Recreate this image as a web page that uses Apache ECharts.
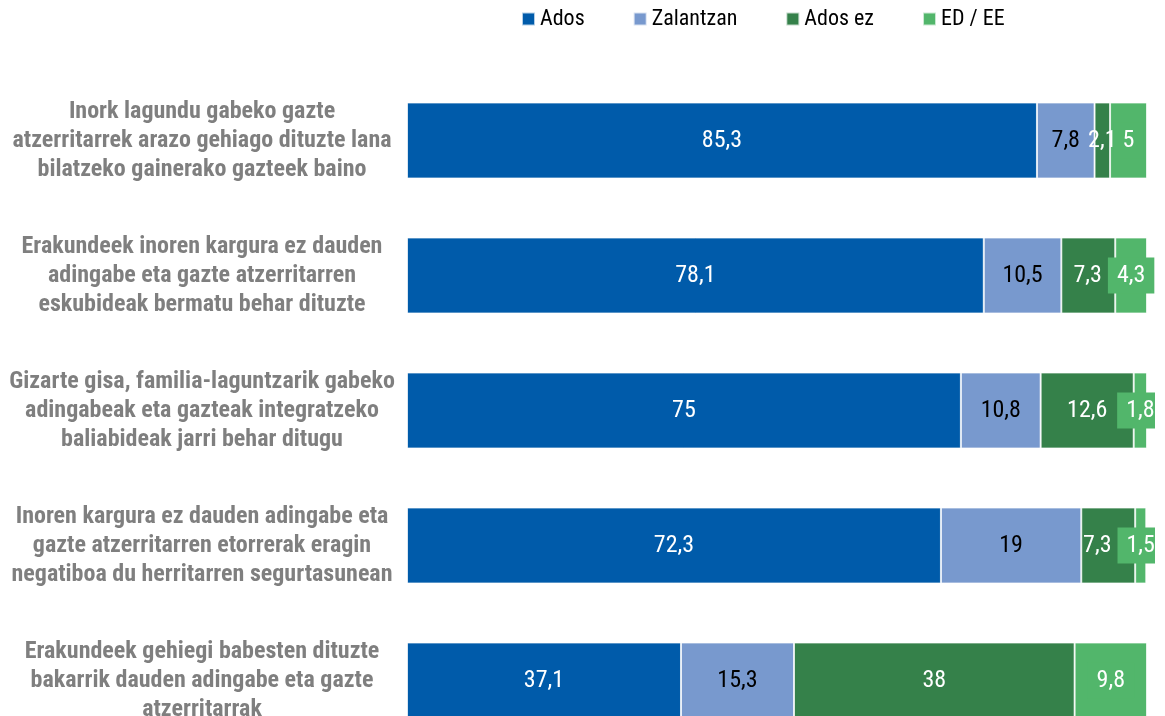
<!DOCTYPE html>
<html>
<head>
<meta charset="utf-8">
<script src="https://cdn.jsdelivr.net/npm/echarts@6/dist/echarts.min.js"></script>
<style>
  html, body { margin: 0; padding: 0; background: #fff; }
  #chart { width: 1165px; height: 716px; }
</style>
</head>
<body>
<div id="chart"></div>
<script>
// Statements (top to bottom)
const categories = [
  'Inork lagundu gabeko gazte\natzerritarrek arazo gehiago dituzte lana\nbilatzeko gainerako gazteek baino',
  'Erakundeek inoren kargura ez dauden\nadingabe eta gazte atzerritarren\neskubideak bermatu behar dituzte',
  'Gizarte gisa, familia-laguntzarik gabeko\nadingabeak eta gazteak integratzeko\nbaliabideak jarri behar ditugu',
  'Inoren kargura ez dauden adingabe eta\ngazte atzerritarren etorrerak eragin\nnegatiboa du herritarren segurtasunean',
  'Erakundeek gehiegi babesten dituzte\nbakarrik dauden adingabe eta gazte\natzerritarrak'
];

const seriesNames = ['Ados', 'Zalantzan', 'Ados ez', 'ED / EE'];

// Percentages per answer
const ados      = [85.3, 78.1, 75.0, 72.3, 37.1];
const zalantzan = [7.8, 10.5, 10.8, 19.0, 15.3];
const adosEz    = [2.1, 7.3, 12.6, 7.3, 38.0];
const edEe      = [5.0, 4.3, 1.8, 1.5, 9.8];

const values = [ados, zalantzan, adosEz, edEe];
const colors = ['#005BAA', '#7899CE', '#35814A', '#52B66B'];
const labelColors = ['#ffffff', '#000000', '#ffffff', '#ffffff'];

const FONT = '"Roboto Condensed", "Liberation Sans Narrow", sans-serif';
const VALUE_SIZE = 24;
const BOX_PAD = 9;
const X_MAX = 100.2;

const fmt = v => String(v).replace('.', ',');

const chart = echarts.init(document.getElementById('chart'));

// labelTweaks[s][i] = extra label settings for one bar segment
function buildSeries(labelTweaks) {
  return values.map((vals, s) => {
    const isLast = s === values.length - 1;
    return {
      name: seriesNames[s],
      type: 'bar',
      stack: 'total',
      barWidth: 76,
      itemStyle: { color: colors[s], borderColor: 'rgba(255,255,255,0.7)', borderWidth: 1 },
      label: {
        show: true,
        position: 'inside',
        color: labelColors[s],
        fontFamily: FONT,
        fontSize: VALUE_SIZE,
        lineHeight: 24,
        formatter: p => fmt(p.value),
        backgroundColor: isLast ? colors[s] : 'transparent',
        padding: isLast ? [6, BOX_PAD, 6, BOX_PAD] : 0
      },
      data: vals.map((v, i) => {
        const tweak = labelTweaks && labelTweaks[s] && labelTweaks[s][i];
        return tweak ? { value: v, label: tweak } : v;
      })
    };
  });
}

const option = {
  animation: false,
  backgroundColor: '#ffffff',
  legend: {
    data: seriesNames,
    left: 521,
    top: 8,
    padding: 0,
    icon: 'rect',
    itemWidth: 13,
    itemHeight: 13,
    itemGap: 48,
    textStyle: { fontFamily: FONT, fontSize: 22, color: '#000000' }
  },
  grid: { left: 407, right: 18, top: 73, bottom: -32, outerBoundsMode: 'none', containLabel: false },
  xAxis: {
    type: 'value',
    min: 0,
    max: X_MAX,
    show: false
  },
  yAxis: {
    type: 'category',
    inverse: true,
    data: categories,
    axisLine: { show: false },
    axisTick: { show: false },
    splitLine: { show: false },
    axisLabel: {
      align: 'center',
      margin: 205,
      fontFamily: FONT,
      fontSize: 24,
      fontWeight: 'bold',
      lineHeight: 29,
      color: '#7F7F7F'
    }
  },
  series: buildSeries(null)
};

chart.setOption(option);

// ED / EE label boxes stay centred on their segment but are cut at the plot edge;
// an "Ados ez" label that would sit under a protruding box moves to the left.
const ctx = document.createElement('canvas').getContext('2d');
ctx.font = VALUE_SIZE + 'px ' + FONT;
const px = (x, i) => chart.convertToPixel({ gridIndex: 0 }, [x, i])[0];
const edge = px(X_MAX, 0) + 8;
const tweaks = [null, null, [], []];
edEe.forEach((v, i) => {
  const segStart = ados[i] + zalantzan[i] + adosEz[i];
  const cx = px(segStart + v / 2, i);
  const half = ctx.measureText(fmt(v)).width / 2;
  const r = Math.max(0, Math.min(BOX_PAD, edge - cx - half));
  const l = BOX_PAD;
  tweaks[3][i] = { padding: [6, r, 6, l], offset: [(r - l) / 2, 0] };

  const boxLeft = cx - half - l;
  if (boxLeft < px(segStart, i)) {
    const a = adosEz[i];
    const gx = px(ados[i] + zalantzan[i] + a / 2, i);
    const gHalf = ctx.measureText(fmt(a)).width / 2;
    const overlap = gx + gHalf - boxLeft;
    if (overlap > -6) {
      tweaks[2][i] = { offset: [-(overlap + 6), 0] };
    }
  }
});
chart.setOption({ series: buildSeries(tweaks) });
</script>
</body>
</html>
